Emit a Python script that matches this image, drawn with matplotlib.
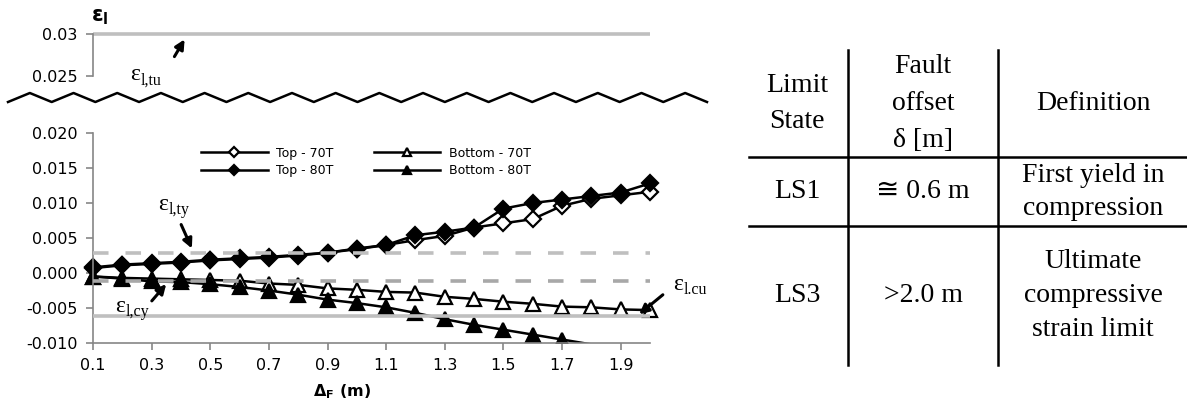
import numpy as np
import matplotlib
matplotlib.use("Agg")
import matplotlib.pyplot as plt
from matplotlib.patches import Rectangle, FancyArrowPatch
from matplotlib.lines import Line2D

# ---------------- data ----------------
delta_f = [0.1, 0.2, 0.3, 0.4, 0.5, 0.6, 0.7, 0.8, 0.9, 1.0,
           1.1, 1.2, 1.3, 1.4, 1.5, 1.6, 1.7, 1.8, 1.9, 2.0]
top_70 = [0.0007, 0.0011, 0.0013, 0.0015, 0.0018, 0.0020, 0.0022, 0.0025, 0.0029, 0.0034,
          0.0040, 0.0047, 0.0053, 0.0065, 0.0071, 0.0077, 0.0096, 0.0106, 0.0111, 0.0116]
top_80 = [0.0008, 0.0012, 0.0014, 0.0016, 0.0019, 0.0021, 0.0023, 0.0026, 0.0029, 0.0035,
          0.0040, 0.0054, 0.0059, 0.0065, 0.0092, 0.0100, 0.0105, 0.0110, 0.0115, 0.0128]
bottom_70 = [-0.0005, -0.0007, -0.0008, -0.0009, -0.0010, -0.0011, -0.0015, -0.0017, -0.0022, -0.0024,
             -0.0027, -0.0028, -0.0034, -0.0037, -0.0041, -0.0044, -0.0048, -0.0049, -0.0052, -0.0053]
bottom_80 = [-0.0005, -0.0008, -0.0012, -0.0013, -0.0016, -0.0020, -0.0025, -0.0031, -0.0038, -0.0043,
             -0.0049, -0.0057, -0.0066, -0.0074, -0.0081, -0.0088, -0.0095, -0.0102, -0.0110, -0.0117]
series_names = ["Top - 70T", "Top - 80T", "Bottom - 70T", "Bottom - 80T"]

eps_ty = 0.0029
eps_cy = -0.0011
eps_cu = -0.0062
eps_tu = 0.03

x_ticks = [0.1, 0.3, 0.5, 0.7, 0.9, 1.1, 1.3, 1.5, 1.7, 1.9]
y_ticks = [-0.010, -0.005, 0.000, 0.005, 0.010, 0.015, 0.020]
top_y_ticks = [0.025, 0.03]
top_y_labels = ["0.025", "0.03"]

table_header = [["Limit", "State"], ["Fault", "offset", "δ [m]"], ["Definition"]]
table_rows = [
    [["LS1"], ["≅ 0.6 m"], ["First yield in", "compression"]],
    [["LS3"], [">2.0 m"], ["Ultimate", "compressive", "strain limit"]],
]

# ---------------- figure ----------------
W, H = 1187, 413
fig = plt.figure(figsize=(W / 100, H / 100), dpi=100)

SANS = "DejaVu Sans"
SERIF = ["Liberation Serif", "DejaVu Serif", "DejaVu Sans"]
AXGRAY = "#868686"
LIGHT = "#BFBFBF"
DARKER = "#A8A8A8"


def fx(px):
    return px / W


def fy(py):
    return 1 - py / H


# main axes: x 93..650 px, y 133..343 px
ax = fig.add_axes([fx(93), fy(343), fx(650) - fx(93), fy(133) - fy(343)])
ax.set_xlim(0.1, 2.0)
ax.set_ylim(-0.010, 0.020)
for s in ["top", "right"]:
    ax.spines[s].set_visible(False)
for s in ["left", "bottom"]:
    ax.spines[s].set_color(AXGRAY)
    ax.spines[s].set_linewidth(1.2)
ax.set_xticks(x_ticks)
ax.set_xticklabels([f"{v:.1f}" for v in x_ticks])
ax.set_yticks(y_ticks)
ax.set_yticklabels([f"{v:.3f}" for v in y_ticks])
ax.tick_params(axis="both", direction="out", length=5, color=AXGRAY, width=1.2,
               labelsize=11.5, pad=6)
for lab in ax.get_xticklabels() + ax.get_yticklabels():
    lab.set_fontfamily(SANS)

clip_rect = Rectangle((-0.05, 0.0), 1.1, 1.2, transform=ax.transAxes, visible=False)
ax.add_patch(clip_rect)

styles = [
    dict(marker="D", mfc="white", mec="black", ms=8, mew=1.6),
    dict(marker="D", mfc="black", mec="black", ms=8, mew=1.6),
    dict(marker="^", mfc="white", mec="black", ms=9.5, mew=1.6),
    dict(marker="^", mfc="black", mec="black", ms=9.5, mew=1.6),
]
ymin = ax.get_ylim()[0]
handles = []
for vals, name, st in zip([top_70, top_80, bottom_70, bottom_80], series_names, styles):
    show = [v >= ymin for v in vals]
    ln, = ax.plot(delta_f, vals, color="black", lw=1.8, markevery=show, zorder=2, label=name, **st)
    ln.set_clip_path(clip_rect)
    handles.append(ln)

# reference strain lines (drawn on top of the series)
x_ref = [delta_f[0], delta_f[-1]]
ax.plot(x_ref, [eps_ty, eps_ty], color=LIGHT, lw=2.6, dashes=(4.3, 4.7), zorder=3)
ax.plot(x_ref, [eps_cy, eps_cy], color=DARKER, lw=2.6, dashes=(4.3, 4.7), zorder=3)
ax.plot(x_ref, [eps_cu, eps_cu], color=LIGHT, lw=2.6, zorder=3, solid_capstyle="butt")

leg = ax.legend(handles=handles, ncol=2, frameon=False, loc="center",
                bbox_to_anchor=(fx(366), fy(162)), bbox_transform=fig.transFigure,
                prop={"family": SANS, "size": 9}, handlelength=5.3, markerscale=0.65,
                columnspacing=3.2, labelspacing=0.35, handletextpad=0.7)

# x label
fig.text(fx(342), fy(392), r"$\mathregular{\Delta_F}$ (m)", family=SANS, weight="bold",
         fontsize=11.5, ha="center", va="center")

# ---------------- top broken axis ----------------
ax2 = fig.add_axes([fx(93), fy(76), fx(650) - fx(93), fy(34) - fy(76)])
ax2.set_xlim(0.1, 2.0)
ax2.set_ylim(0.025, 0.03)
for s in ["top", "right", "bottom"]:
    ax2.spines[s].set_visible(False)
ax2.spines["left"].set_color(AXGRAY)
ax2.spines["left"].set_linewidth(1.2)
ax2.set_xticks([])
ax2.set_yticks(top_y_ticks)
ax2.set_yticklabels(top_y_labels)
ax2.tick_params(axis="y", direction="out", length=5, color=AXGRAY, width=1.2,
                labelsize=11.5, pad=6)
for lab in ax2.get_yticklabels():
    lab.set_fontfamily(SANS)
ax2.plot(x_ref, [eps_tu, eps_tu], color=LIGHT, lw=2.6, clip_on=False, solid_capstyle="butt")

# axis title epsilon_l
fig.text(fx(91), fy(17), r"$\mathregular{ε_l}$", family=SANS, weight="bold", fontsize=15,
         ha="left", va="center")

# zigzag break
n_per = 16
zx0, zx1 = 8, 707
zy_lo, zy_hi = 102, 93
zz_x = np.linspace(zx0, zx1, 2 * n_per + 1)
zz_y = np.where(np.arange(2 * n_per + 1) % 2 == 0, zy_lo, zy_hi)
fig.add_artist(Line2D([fx(v) for v in zz_x], [fy(v) for v in zz_y], color="black", lw=1.8,
                      transform=fig.transFigure))


# annotations: epsilon with a subscript, composed from two texts
def eps_label(x_left, y_c, sub, size=17):
    fig.text(fx(x_left), fy(y_c), "ε", family=SERIF, fontsize=size, ha="left", va="center")
    fig.text(fx(x_left + 10.5), fy(y_c + 6), sub, family=SERIF, fontsize=size * 0.68,
             ha="left", va="center")


def arrow(tail, tip):
    fig.add_artist(FancyArrowPatch(
        (fx(tail[0]), fy(tail[1])), (fx(tip[0]), fy(tip[1])), transform=fig.transFigure,
        arrowstyle="-|>", mutation_scale=14, color="black", lw=2.2))


eps_label(130, 75, "l,tu")
arrow((173, 59), (186, 37))
eps_label(158, 204, "l,ty")
arrow((180, 222), (193, 251))
eps_label(115, 306, "l,cy")
arrow((150, 303), (168, 282))
eps_label(673, 284, "l.cu")
arrow((665, 293), (637, 316))

# ---------------- table ----------------
col_x = [797, 923, 1093]
vlines_x = [848, 998]
hlines_y = [157, 226]
tab_top, tab_bot = 50, 365
tab_left, tab_right = 749, 1187
for vx in vlines_x:
    fig.add_artist(Line2D([fx(vx), fx(vx)], [fy(tab_top), fy(tab_bot)], color="black", lw=1.8))
for hy in hlines_y:
    fig.add_artist(Line2D([fx(tab_left), fx(tab_right)], [fy(hy), fy(hy)], color="black", lw=1.8))

row_bounds = [(tab_top, hlines_y[0]), (hlines_y[0], hlines_y[1]), (hlines_y[1], tab_bot)]
row_line_h = [37, 33, 33.5]
TS = 20
for (r0, r1), lh, cells in zip(row_bounds, row_line_h, [table_header] + table_rows):
    yc = (r0 + r1) / 2
    for cx, lines in zip(col_x, cells):
        n = len(lines)
        for i, t in enumerate(lines):
            yy = yc + (i - (n - 1) / 2) * lh
            fig.text(fx(cx), fy(yy), t, family=SERIF, fontsize=TS, ha="center", va="center")

fig.savefig("out.png", dpi=100)
